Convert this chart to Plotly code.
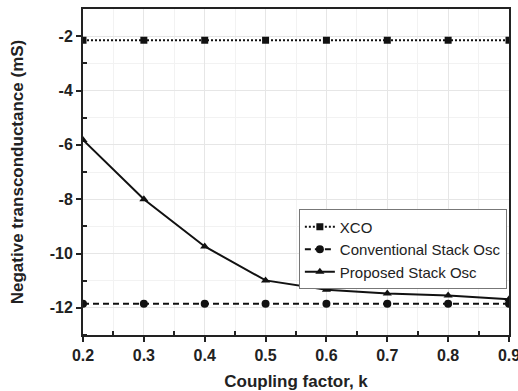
import plotly.graph_objects as go

k = [0.2, 0.3, 0.4, 0.5, 0.6, 0.7, 0.8, 0.9]
xco = [-2.15, -2.15, -2.15, -2.15, -2.15, -2.15, -2.15, -2.15]
conv = [-11.85, -11.85, -11.85, -11.85, -11.85, -11.85, -11.85, -11.85]
prop = [-5.82, -8.0, -9.74, -10.99, -11.33, -11.47, -11.55, -11.68]
x_ticks = [0.2, 0.3, 0.4, 0.5, 0.6, 0.7, 0.8, 0.9]
x_labels = ["0.2", "0.3", "0.4", "0.5", "0.6", "0.7", "0.8", "0.9"]
y_ticks = [-2, -4, -6, -8, -10, -12]
y_labels = ["-2", "-4", "-6", "-8", "-10", "-12"]

FONT = "Arial, Liberation Sans, sans-serif"

fig = go.Figure()
fig.add_trace(go.Scatter(x=k, y=xco, name="XCO", mode="lines+markers",
                         line=dict(color="#111", width=2, dash="2px,2px"),
                         marker=dict(symbol="square", size=7, color="#111")))
fig.add_trace(go.Scatter(x=k, y=conv, name="Conventional Stack Osc", mode="lines+markers",
                         line=dict(color="#111", width=2, dash="6px,4px"),
                         marker=dict(symbol="circle", size=8, color="#111")))
fig.add_trace(go.Scatter(x=k, y=prop, name="Proposed Stack Osc", mode="lines+markers",
                         line=dict(color="#111", width=2, dash="solid"),
                         marker=dict(symbol="triangle-up", size=8, color="#111")))

axis_common = dict(
    showline=True, linecolor="#222", linewidth=2, mirror=True,
    ticks="outside", ticklen=5, tickwidth=1.5, tickcolor="#222",
    showgrid=True, gridcolor="#e6e6e6", gridwidth=1,
    zeroline=False, automargin=False, ticklabeloverflow="allow",
    tickfont=dict(family=FONT, size=16, color="#222", weight="bold"),
)

fig.update_xaxes(**axis_common, range=[0.2, 0.9], tickvals=x_ticks, ticktext=x_labels,
                 minor=dict(tickvals=[0.25, 0.35, 0.45, 0.55, 0.65, 0.75, 0.85], ticks="inside",
                            ticklen=4, tickcolor="#222", showgrid=True, gridcolor="#f2f2f2"),
                 title=dict(text="Coupling factor, k", standoff=16,
                            font=dict(family=FONT, size=17, color="#222", weight="bold")))
fig.update_yaxes(**axis_common, range=[-13, -1], tickvals=y_ticks, ticktext=y_labels,
                 minor=dict(tickvals=[-3, -5, -7, -9, -11, -13], ticks="inside",
                            ticklen=4, tickcolor="#222", showgrid=True, gridcolor="#f2f2f2"),
                 title=dict(text="Negative transconductance (mS)", standoff=22,
                            font=dict(family=FONT, size=17, color="#222", weight="bold")))

fig.update_layout(
    width=518, height=391,
    margin=dict(l=83, r=9, t=9, b=56),
    plot_bgcolor="white", paper_bgcolor="white",
    showlegend=True,
    legend=dict(x=0.995, y=0.385, xanchor="right", yanchor="top",
                bgcolor="white", bordercolor="#777", borderwidth=1,
                font=dict(family=FONT, size=15, color="#222"),
                tracegroupgap=0, itemwidth=30),
)

fig.write_html("out.html")
